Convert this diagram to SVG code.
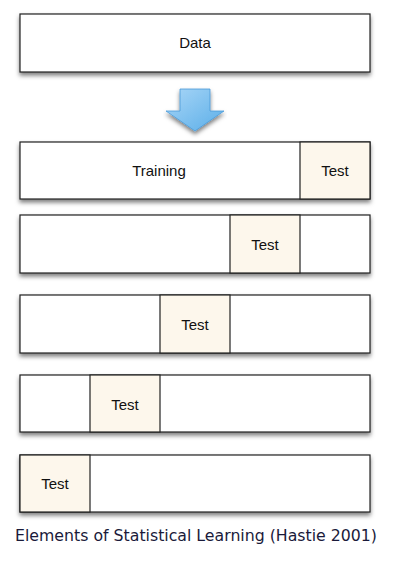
<svg xmlns="http://www.w3.org/2000/svg" width="403" height="572" viewBox="0 0 403 572">
  <defs>
    <filter id="shadow" x="-5%" y="-20%" width="110%" height="160%">
      <feDropShadow dx="0" dy="3" stdDeviation="2" flood-color="#000" flood-opacity="0.5"/>
    </filter>
    <linearGradient id="arrowFill" x1="0" y1="0" x2="1" y2="1">
      <stop offset="0" stop-color="#a9d6f7"/>
      <stop offset="1" stop-color="#5aaee8"/>
    </linearGradient>
    <style>
      .box { fill: #ffffff; stroke: #222; stroke-width: 1.2; }
      .test { fill: #fdf7ec; stroke: #222; stroke-width: 1.2; }
      .lbl { font-family: "Liberation Sans", Arial, sans-serif; font-size: 15px; fill: #111; text-anchor: middle; }
      .cap { font-family: "DejaVu Sans", "Liberation Sans", sans-serif; font-size: 15px; fill: #1a1a3a; }
    </style>
  </defs>
  <rect width="403" height="572" fill="#ffffff"/>

  <g id="data">
    <rect class="box" x="20" y="14" width="350" height="58" filter="url(#shadow)"/>
    <text class="lbl" x="195" y="48">Data</text>
  </g>

  <g id="connectors">
    <path d="M180,89 H210 V111 H224 L195,131 L166,111 H180 Z" fill="url(#arrowFill)" stroke="#4a9ad8" stroke-width="0.8" filter="url(#shadow)"/>
  </g>

  <g id="fold1">
    <rect class="box" x="20" y="142" width="350" height="57" filter="url(#shadow)"/>
    <rect class="test" x="300" y="142" width="70" height="57"/>
    <text class="lbl" x="159" y="176">Training</text>
    <text class="lbl" x="335" y="176">Test</text>
  </g>

  <g id="fold2">
    <rect class="box" x="20" y="215" width="350" height="58" filter="url(#shadow)"/>
    <rect class="test" x="230" y="215" width="70" height="58"/>
    <text class="lbl" x="265" y="250">Test</text>
  </g>

  <g id="fold3">
    <rect class="box" x="20" y="295" width="350" height="58" filter="url(#shadow)"/>
    <rect class="test" x="160" y="295" width="70" height="58"/>
    <text class="lbl" x="195" y="330">Test</text>
  </g>

  <g id="fold4">
    <rect class="box" x="20" y="375" width="350" height="57" filter="url(#shadow)"/>
    <rect class="test" x="90" y="375" width="70" height="57"/>
    <text class="lbl" x="125" y="410">Test</text>
  </g>

  <g id="fold5">
    <rect class="box" x="20" y="455" width="350" height="57" filter="url(#shadow)"/>
    <rect class="test" x="20" y="455" width="70" height="57"/>
    <text class="lbl" x="55" y="489">Test</text>
  </g>

  <text class="cap" x="15" y="541" textLength="362" lengthAdjust="spacingAndGlyphs">Elements of Statistical Learning (Hastie 2001)</text>
</svg>
